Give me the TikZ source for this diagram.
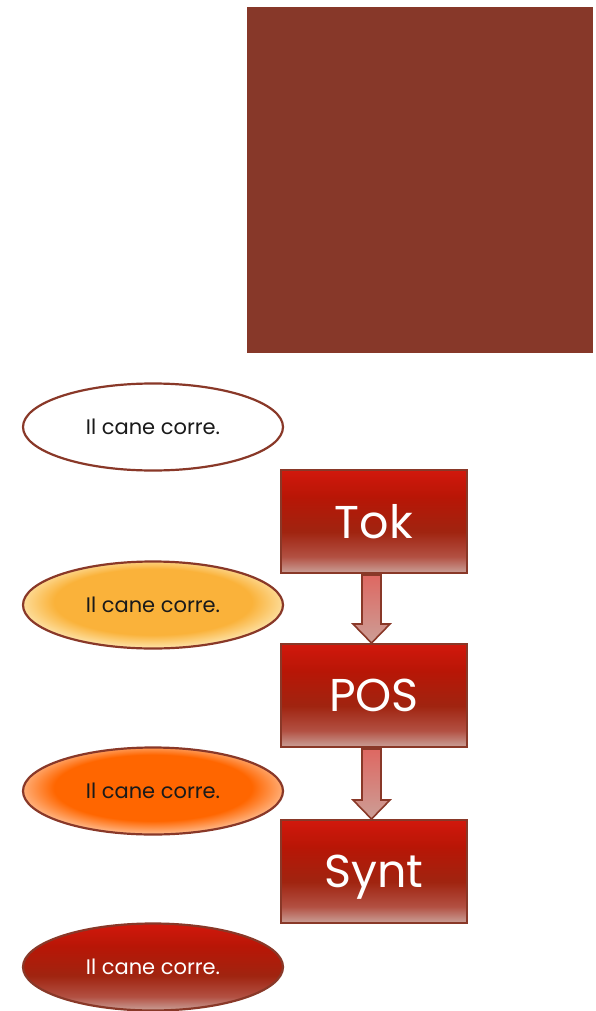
\documentclass[tikz,border=0pt]{standalone}
\usepackage{fontspec}
\setmainfont{Poppins}
\usetikzlibrary{calc,shapes.geometric}

\definecolor{panelbrown}{RGB}{135,56,41}
\definecolor{edgebrown}{RGB}{137,56,40}
\definecolor{redtop}{RGB}{210,24,12}
\definecolor{redmid}{RGB}{184,22,6}
\definecolor{reddark}{RGB}{160,36,16}
\definecolor{redlow}{RGB}{178,80,66}
\definecolor{redbot}{RGB}{202,160,152}
\definecolor{amber}{RGB}{250,178,58}
\definecolor{amberpale}{RGB}{253,226,166}
\definecolor{tangerine}{RGB}{255,102,0}
\definecolor{tangerinepale}{RGB}{255,184,136}
\definecolor{arrowtop}{RGB}{222,104,98}
\definecolor{arrowbot}{RGB}{204,158,150}
\definecolor{textdark}{RGB}{26,26,26}

% vertical shading of the red blocks: bright top, dark middle, pale bottom
\pgfdeclareverticalshading{redblock}{100bp}{
  color(0bp)=(redbot); color(25bp)=(redbot); color(33bp)=(redlow);
  color(45bp)=(reddark); color(62bp)=(redmid); color(75bp)=(redtop); color(100bp)=(redtop)}
\pgfdeclareverticalshading{arrowfill}{100bp}{
  color(0bp)=(arrowbot); color(25bp)=(arrowbot); color(75bp)=(arrowtop); color(100bp)=(arrowtop)}
\pgfdeclareradialshading{amberglow}{\pgfpoint{0bp}{3bp}}{
  color(0bp)=(amber); color(19bp)=(amber); color(26bp)=(amberpale); color(50bp)=(amberpale)}
\pgfdeclareradialshading{tangerineglow}{\pgfpoint{0bp}{3bp}}{
  color(0bp)=(tangerine); color(19bp)=(tangerine); color(26bp)=(tangerinepale); color(50bp)=(tangerinepale)}

\tikzset{
  sentence/.style={ellipse, draw=edgebrown, line width=2.2pt, minimum width=260pt,
    minimum height=87pt, inner sep=0pt, font=\fontsize{21}{24}\selectfont, text=textdark},
  stagebox/.style={rectangle, draw=edgebrown, line width=2pt, minimum width=186pt,
    minimum height=103pt, inner sep=0pt, shading=redblock, text depth=0pt,
    font=\fontsize{46}{50}\selectfont, text=white},
  blockarrow/.style={draw=edgebrown, line width=1.6pt, shading=arrowfill, line join=miter},
}

\begin{document}
\begin{tikzpicture}[x=1pt, y=-1pt]
  \useasboundingbox (0,0) rectangle (596,1011);

  % solid brown panel
  \fill[panelbrown] (247,7) rectangle (593,353);

  % sentences
  \node[sentence, fill=white] (s0) at (153,427) {Il cane corre.};
  \node[sentence, shading=amberglow] (s1) at (153,605) {Il cane corre.};
  \node[sentence, shading=tangerineglow] (s2) at (153,791) {Il cane corre.};
  \node[sentence, shading=redblock, text=white] (s3) at (153,967) {Il cane corre.};

  % processing stages
  \node[stagebox] (tok)  at (374,521.5) {Tok};
  \node[stagebox] (pos)  at (374,695.5) {POS};
  \node[stagebox] (synt) at (374,871.5) {Synt};

  % block arrows between the stages
  \foreach \a/\b in {tok/pos, pos/synt}{
    \path[blockarrow]
      ($(\a.south)+(-12,1)$) -- ($(\a.south)+(7,1)$)
      -- ($(\b.north)+(7,-19)$) -- ($(\b.north)+(16,-19)$)
      -- ($(\b.north)+(-2.5,0)$)
      -- ($(\b.north)+(-21,-19)$) -- ($(\b.north)+(-12,-19)$) -- cycle;
  }
\end{tikzpicture}
\end{document}
